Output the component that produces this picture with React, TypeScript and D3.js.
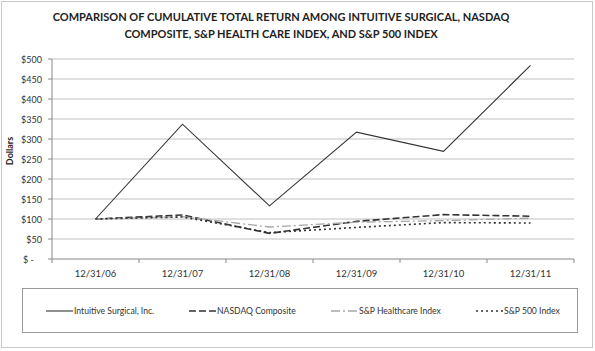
import React from 'react';
import * as d3 from 'd3';

const categories = ['12/31/06', '12/31/07', '12/31/08', '12/31/09', '12/31/10', '12/31/11'];
const intuitive = [100, 337, 133, 317, 269, 484];
const nasdaq = [100, 110, 64, 94, 111, 107];
const healthcare = [100, 106, 80, 92, 96, 102];
const sp500 = [100, 105, 66, 79, 91, 90];
const yTicks = [0, 50, 100, 150, 200, 250, 300, 350, 400, 450, 500];

const seriesList = [
  { name: 'Intuitive Surgical, Inc.', values: intuitive, color: '#333', width: 1.1, dash: '' },
  { name: 'NASDAQ Composite', values: nasdaq, color: '#333', width: 1.6, dash: '7,3' },
  { name: 'S&P Healthcare Index', values: healthcare, color: '#a6a6a6', width: 1.3, dash: '9,3,2,3' },
  { name: 'S&P 500 Index', values: sp500, color: '#333', width: 1.6, dash: '2,3' },
];

const font = 'Lato, "Open Sans", sans-serif';

export default function App() {
  const left = 52, right = 574, top = 59, bottom = 259;
  const x = d3.scaleBand<string>().domain(categories).range([left, right]);
  const y = d3.scaleLinear().domain([0, 500]).range([bottom, top]);
  const line = d3.line<number>()
    .x((_, i) => (x(categories[i]) as number) + x.bandwidth() / 2)
    .y(d => y(d));
  const boundaries = [...categories.map(c => x(c) as number), right];
  const legendX = [46, 189, 331, 476];

  return (
    <svg width={595} height={351} style={{ position: 'absolute', left: 0, top: 0 }}>
      <rect x={0} y={0} width={595} height={351} fill="#fff" />
      <rect x={1.5} y={1.5} width={591} height={346} fill="none" stroke="#c8c8c8" />
      <text x={281} y={21} textAnchor="middle" fontFamily={font} fontWeight="bold" fontSize={11} fill="#222">
        COMPARISON OF CUMULATIVE TOTAL RETURN AMONG INTUITIVE SURGICAL, NASDAQ
      </text>
      <text x={281} y={38} textAnchor="middle" fontFamily={font} fontWeight="bold" fontSize={11} fill="#222">
        COMPOSITE, S&amp;P HEALTH CARE INDEX, AND S&amp;P 500 INDEX
      </text>
      {yTicks.map(t => (
        <g key={t}>
          {t > 0 && <line x1={left} x2={right} y1={y(t)} y2={y(t)} stroke="#c0c0c0" strokeWidth={1} />}
          <line x1={left - 4} x2={left} y1={y(t)} y2={y(t)} stroke="#888" />
          {t === 0 ? (
            <text x={23} y={y(t) + 3.5} fontFamily={font} fontSize={9} fill="#333">$ -</text>
          ) : (
            <text x={42} y={y(t) + 3.5} textAnchor="end" fontFamily={font} fontSize={9} fill="#333">
              {'$' + t}
            </text>
          )}
        </g>
      ))}
      <line x1={left} x2={left} y1={top} y2={bottom} stroke="#888" />
      <line x1={left} x2={right} y1={bottom} y2={bottom} stroke="#888" />
      {boundaries.map((b, i) => (
        <line key={i} x1={b} x2={b} y1={bottom} y2={bottom + 4} stroke="#888" />
      ))}
      {categories.map(c => (
        <text key={c} x={(x(c) as number) + x.bandwidth() / 2} y={277} textAnchor="middle" fontFamily={font} fontSize={9.5} fill="#333">
          {c}
        </text>
      ))}
      <text transform="translate(13,151) rotate(-90)" textAnchor="middle" fontFamily={font} fontWeight="bold" fontSize={9} fill="#222">
        Dollars
      </text>
      {seriesList.map(s => (
        <path key={s.name} d={line(s.values) ?? ''} fill="none" stroke={s.color} strokeWidth={s.width} strokeDasharray={s.dash} />
      ))}
      <rect x={22.5} y={288.5} width={555} height={44} fill="none" stroke="#999" />
      {seriesList.map((s, i) => (
        <g key={s.name}>
          <line x1={legendX[i]} x2={legendX[i] + 27} y1={311} y2={311} stroke={s.color} strokeWidth={s.width} strokeDasharray={s.dash} />
          <text x={legendX[i] + 28} y={314} fontFamily={font} fontSize={8.6} fill="#333">{s.name}</text>
        </g>
      ))}
    </svg>
  );
}
